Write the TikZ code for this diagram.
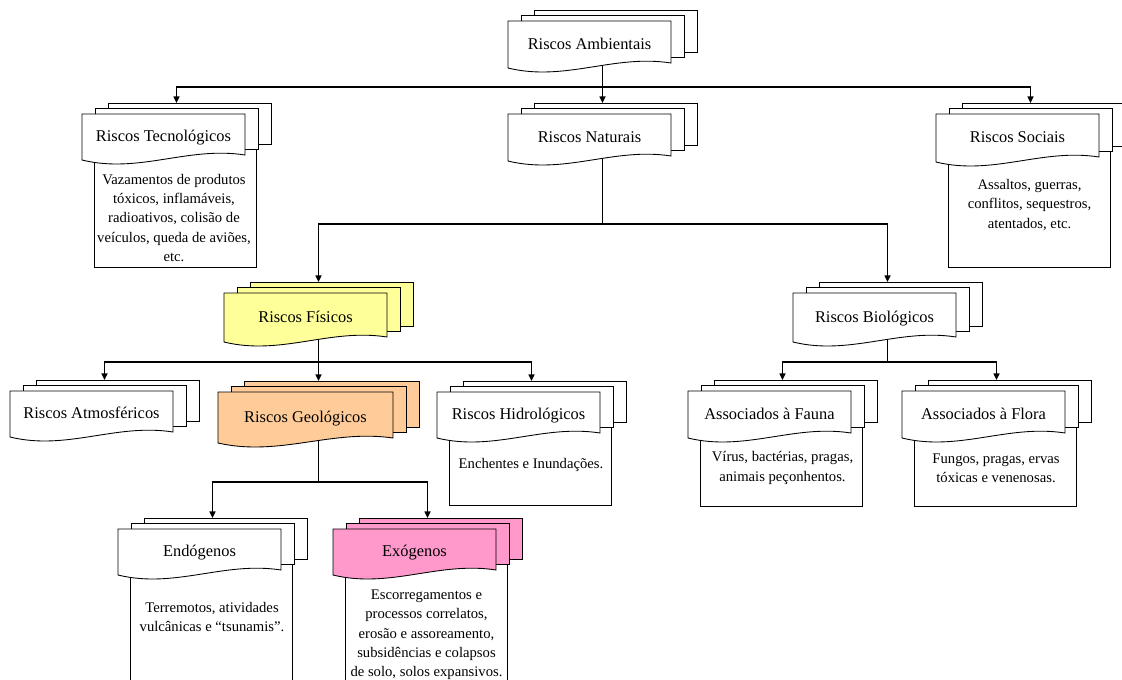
\documentclass[tikz,border=0pt]{standalone}
\usepackage{fontspec}
\setmainfont{Liberation Serif}
\usetikzlibrary{arrows.meta}
\pgfdeclarelayer{background}
\pgfsetlayers{background,main}
\definecolor{fyellow}{HTML}{FFFF99}
\definecolor{forange}{HTML}{FFCC99}
\definecolor{fpink}{HTML}{FF99CC}
\tikzset{
  pg/.style={draw=black,line width=0.65pt,line join=miter},
  ttl/.style={font=\fontsize{12.3}{14}\selectfont,inner sep=0pt,anchor=base},
  dsc/.style={font=\fontsize{11}{14.5}\selectfont,align=center,inner sep=0pt},
  conn/.style={line width=1pt,-{Triangle[length=5pt,width=4.5pt]}},
  tbox/.style={draw=black,line width=0.65pt,fill=white}
}
% #1 name, #2 x, #3 y, #4 w, #5 h, #6 fill, #7 title
\newcommand\mdoc[7]{%
  \path[pg,fill=#6] (#2+26,#3-11) rectangle (#2+26+#4,#3-16+#5);
  \path[pg,fill=#6] (#2+13,#3-6) rectangle (#2+13+#4,#3-11+#5);
  \path[pg,fill=#6] (#2,#3) -- (#2+#4,#3) -- (#2+#4,#3+#5-5)
     .. controls (#2+0.65*#4,#3+#5-14) and (#2+0.35*#4,#3+#5+14) .. (#2,#3+#5) -- cycle;
  \node[ttl] (#1) at (#2+#4/2,#3+#5/2+4.5) {#7};
  \coordinate (#1-top) at (#2+#4/2+13,#3-11);
  \coordinate (#1-bot) at (#2+#4/2+13,#3+#5-8);
}
% text box: #1 x, #2 y, #3 w, #4 h, #5 bottom
\newcommand\tbx[5]{%
  \path[tbox] (#1+12,#2+#4-15) rectangle (#1+#3+11,#5);
}
\begin{document}
\begin{tikzpicture}[x=0.75pt,y=-0.75pt]
\useasboundingbox (0,0) rectangle (1122,679);
\clip (0,0) rectangle (1122,679);

% row 1
\mdoc{amb}{508}{21}{163}{47}{white}{Riscos Ambientais}
% row 2
\tbx{82}{114}{163}{46}{267}
\mdoc{tec}{82}{114}{163}{46}{white}{Riscos Tecnológicos}
\node[dsc] (tecd) at (174,218) {Vazamentos de produtos\\tóxicos, inflamáveis,\\radioativos, colisão de\\veículos, queda de aviões,\\etc.};
\mdoc{nat}{508}{114}{163}{47}{white}{Riscos Naturais}
\tbx{936}{114}{163}{48}{267}
\mdoc{soc}{936}{114}{163}{48}{white}{Riscos Sociais}
\node[dsc] (socd) at (1029.5,205) {Assaltos, guerras,\\conflitos, sequestros,\\atentados, etc.};
% row 3
\mdoc{fis}{224}{293}{163}{49}{fyellow}{Riscos Físicos}
\mdoc{bio}{793}{293}{163}{49}{white}{Riscos Biológicos}
% row 4
\mdoc{atm}{10}{391}{163}{46}{white}{Riscos Atmosféricos}
\mdoc{geo}{218}{392}{175}{51}{forange}{Riscos Geológicos}
\tbx{437}{392}{163}{46}{505}
\mdoc{hid}{437}{392}{163}{46}{white}{Riscos Hidrológicos}
\node[dsc] (hidd) at (531,465) {Enchentes e Inundações.};
\tbx{688}{391}{163}{47}{506}
\mdoc{fau}{688}{391}{163}{47}{white}{Associados à Fauna}
\node[dsc] (faud) at (782.5,468) {Vírus, bactérias, pragas,\\animais peçonhentos.};
\tbx{902}{391}{163}{47}{506}
\mdoc{flo}{902}{391}{163}{47}{white}{Associados à Flora}
\node[dsc] (flod) at (996,468) {Fungos, pragas, ervas\\tóxicas e venenosas.};
% row 5
\tbx{118}{529}{163}{46}{700}
\mdoc{end}{118}{529}{163}{46}{white}{Endógenos}
\node[dsc] (endd) at (212,617) {Terremotos, atividades\\vulcânicas e “tsunamis”.};
\tbx{333}{529}{163}{46}{700}
\mdoc{exo}{333}{529}{163}{46}{fpink}{Exógenos}
\node[dsc] (exod) at (426.5,635) {Escorregamentos e\\processos correlatos,\\erosão e assoreamento,\\subsidências e colapsos\\de solo, solos expansivos.};

\begin{pgfonlayer}{background}
  \coordinate (j1) at (602.5,87);
  \draw[conn] (amb-bot) -- (j1) -| (tec-top);
  \draw[conn] (j1) -| (soc-top);
  \draw[conn] (j1) -- (nat-top);
  \coordinate (j2) at (602.5,224);
  \draw[conn] (nat-bot) -- (j2) -| (fis-top);
  \draw[conn] (j2) -| (bio-top);
  \coordinate (j3) at (318.5,362);
  \draw[conn] (fis-bot) -- (j3) -| (atm-top);
  \draw[conn] (j3) -| (hid-top);
  \draw[conn] (j3) -- (geo-top);
  \coordinate (j4) at (887.5,362);
  \draw[conn] (bio-bot) -- (j4) -| (fau-top);
  \draw[conn] (j4) -| (flo-top);
  \coordinate (j5) at (318.5,482);
  \draw[conn] (geo-bot) -- (j5) -| (end-top);
  \draw[conn] (j5) -| (exo-top);
\end{pgfonlayer}
\end{tikzpicture}
\end{document}
